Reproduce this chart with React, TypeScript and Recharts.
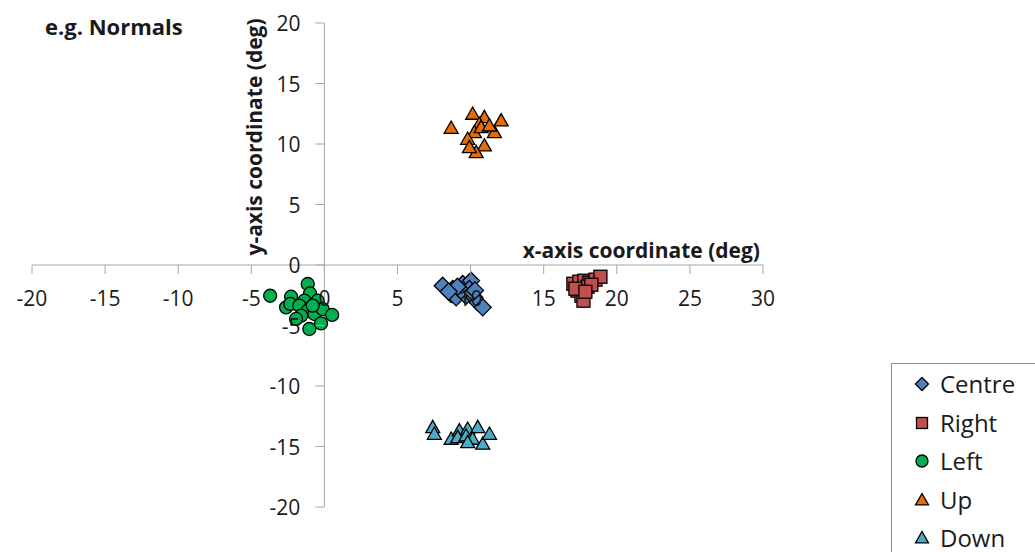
import { ScatterChart, Scatter, XAxis, YAxis, ReferenceLine, Legend } from 'recharts';

const W = 1035;
const H = 552;
const M = { top: 23, right: 272, bottom: 44, left: 31 };
const X_MIN = -20;
const X_MAX = 30;
const Y_MIN = -20;
const Y_MAX = 20;
const xTicks = [-20, -15, -10, -5, 0, 5, 10, 15, 20, 25, 30];
const yTicks = [-20, -15, -10, -5, 0, 5, 10, 15, 20];

// gaze positions per target (deg)
const centreX = [8.09, 8.78, 8.67, 9.01, 9.46, 10.03, 9.92, 9.69, 10.26, 10.49, 10.83, 9.35, 10.14, 9.1, 10.3, 8.5];
const centreY = [-1.71, -1.98, -2.4, -2.68, -1.57, -1.3, -1.98, -2.54, -2.68, -3.09, -3.5, -2.12, -2.26, -1.8, -2.1, -2.2];
const rightX = [17.03, 17.44, 17.78, 18.13, 18.54, 18.88, 17.31, 17.58, 17.72, 18.0, 18.26, 17.17, 17.85];
const rightY = [-1.55, -1.38, -1.3, -1.46, -1.21, -0.97, -2.12, -2.54, -2.95, -1.79, -1.63, -1.96, -2.21];
const leftX = [-3.71, -2.28, -2.62, -2.33, -1.14, -0.98, -1.37, -1.71, -1.14, -1.59, -1.94, -0.68, -0.46, -0.12, 0.53, -0.23, -1.03, -0.8];
const leftY = [-2.54, -2.62, -3.5, -3.22, -1.57, -2.35, -2.95, -3.36, -3.78, -4.19, -4.46, -4.05, -2.95, -3.64, -4.13, -4.83, -5.29, -3.36];
const upX = [8.67, 10.14, 10.94, 12.09, 10.6, 10.26, 11.63, 9.8, 10.94, 10.38, 9.92, 10.72, 11.29];
const upY = [11.32, 12.48, 12.2, 11.93, 11.65, 10.96, 10.96, 10.41, 9.86, 9.31, 9.72, 11.37, 11.51];
const downX = [7.41, 7.52, 8.67, 9.23, 9.8, 10.49, 9.12, 9.69, 10.14, 10.83, 11.29, 9.8];
const downY = [-13.42, -13.97, -14.38, -13.69, -13.55, -13.42, -14.25, -14.11, -14.38, -14.79, -13.97, -14.66];

const zip = (xs: number[], ys: number[]) => xs.map((x, i) => ({ x, y: ys[i] }));

const AXIS = '#a6a6a6';
const TXT = '#1a1a1a';
const FONT = '"Open Sans", sans-serif';

const plotW = W - M.left - M.right - 1;
const plotH = H - M.top - M.bottom - 1;
// axes cross at the origin, so ticks are shifted from the plot edge to 0
const zeroDX = (plotW * (0 - X_MIN)) / (X_MAX - X_MIN);
const zeroDY = (plotH * (0 - Y_MIN)) / (Y_MAX - Y_MIN);

const renderXTick = ({ x, y, payload }: any) => {
  const y0 = y - zeroDY;
  return (
    <g>
      <line x1={x} x2={x} y1={y0} y2={y0 + 9} stroke={AXIS} />
      <text x={x} y={y0 + 41} textAnchor="middle" fontSize={21} fontFamily={FONT} fill={TXT}>
        {payload.value}
      </text>
    </g>
  );
};

const renderYTick = ({ x, y, payload }: any) => {
  const x0 = x + zeroDX;
  return (
    <g>
      <line x1={x0 - 9} x2={x0} y1={y} y2={y} stroke={AXIS} />
      <text x={x0 - 24} y={y + 8} textAnchor="end" fontSize={21} fontFamily={FONT} fill={TXT}>
        {payload.value}
      </text>
    </g>
  );
};

const diamond = (cx: number, cy: number, r: number, fill: string) => (
  <polygon points={`${cx},${cy - r} ${cx + r},${cy} ${cx},${cy + r} ${cx - r},${cy}`} fill={fill} stroke="#000" strokeWidth={1.3} />
);
const square = (cx: number, cy: number, r: number, fill: string) => (
  <rect x={cx - r} y={cy - r} width={2 * r} height={2 * r} fill={fill} stroke="#000" strokeWidth={1.3} />
);
const circle = (cx: number, cy: number, r: number, fill: string) => (
  <circle cx={cx} cy={cy} r={r} fill={fill} stroke="#000" strokeWidth={1.3} />
);
const triangle = (cx: number, cy: number, r: number, fill: string) => (
  <polygon points={`${cx},${cy - r} ${cx + r},${cy + r * 0.75} ${cx - r},${cy + r * 0.75}`} fill={fill} stroke="#000" strokeWidth={1.3} />
);

const series = [
  { name: 'Centre', data: zip(centreX, centreY), color: '#4f81bd', mark: diamond, size: 8.5, legSize: 6.5 },
  { name: 'Right', data: zip(rightX, rightY), color: '#c0504d', mark: square, size: 6.5, legSize: 5.5 },
  { name: 'Left', data: zip(leftX, leftY), color: '#00b050', mark: circle, size: 6.5, legSize: 6 },
  { name: 'Up', data: zip(upX, upY), color: '#e46c0a', mark: triangle, size: 7, legSize: 6.5 },
  { name: 'Down', data: zip(downX, downY), color: '#4bacc6', mark: triangle, size: 7, legSize: 6.5 },
];

const LegendBox = () => (
  <div style={{ border: '1px solid #8c8c8c', background: '#fff', width: 170, height: 220, boxSizing: 'border-box', paddingTop: 1 }}>
    {series.map((s) => (
      <div key={s.name} style={{ display: 'flex', alignItems: 'center', height: 38.5 }}>
        <svg width={16} height={16} style={{ marginLeft: 22 }}>
          {s.mark(8, 8, s.legSize, s.color)}
        </svg>
        <span style={{ marginLeft: 10, fontFamily: FONT, fontSize: 24, color: TXT, lineHeight: '26px' }}>{s.name}</span>
      </div>
    ))}
  </div>
);

export default function App() {
  return (
    <div style={{ position: 'absolute', left: 0, top: 0, width: W, height: H, overflow: 'hidden', background: '#fff' }}>
      <ScatterChart width={W} height={H} margin={M}>
        <XAxis
          type="number"
          dataKey="x"
          domain={[X_MIN, X_MAX]}
          ticks={xTicks}
          interval={0}
          height={1}
          axisLine={false}
          tickLine={false}
          tickSize={0}
          tickMargin={0}
          tick={renderXTick}
        />
        <YAxis
          type="number"
          dataKey="y"
          domain={[Y_MIN, Y_MAX]}
          ticks={yTicks}
          interval={0}
          width={1}
          axisLine={false}
          tickLine={false}
          tickSize={0}
          tickMargin={0}
          tick={renderYTick}
        />
        <ReferenceLine y={0} stroke={AXIS} strokeWidth={1} />
        <ReferenceLine x={0} stroke={AXIS} strokeWidth={1} />
        {series.map((s) => (
          <Scatter
            key={s.name}
            name={s.name}
            data={s.data}
            fill={s.color}
            isAnimationActive={false}
            shape={(p: any) => s.mark(p.cx, p.cy, s.size, s.color)}
          />
        ))}
        <Legend
          layout="vertical"
          align="center"
          verticalAlign="middle"
          content={<LegendBox />}
          wrapperStyle={{ left: 891, top: 363, width: 170, height: 220 }}
        />
      </ScatterChart>
      <svg width={W} height={H} style={{ position: 'absolute', left: 0, top: 0, pointerEvents: 'none' }}>
        <text x={45} y={35} fontSize={22} fontWeight="bold" fontFamily={FONT} fill={TXT}>
          e.g. Normals
        </text>
        <text x={760} y={258} textAnchor="end" fontSize={21} fontWeight="bold" fontFamily={FONT} fill={TXT}>
          x-axis coordinate (deg)
        </text>
        <text
          x={262}
          y={137}
          textAnchor="middle"
          fontSize={21}
          fontWeight="bold"
          fontFamily={FONT}
          fill={TXT}
          transform="rotate(-90 262 137)"
        >
          y-axis coordinate (deg)
        </text>
      </svg>
    </div>
  );
}
